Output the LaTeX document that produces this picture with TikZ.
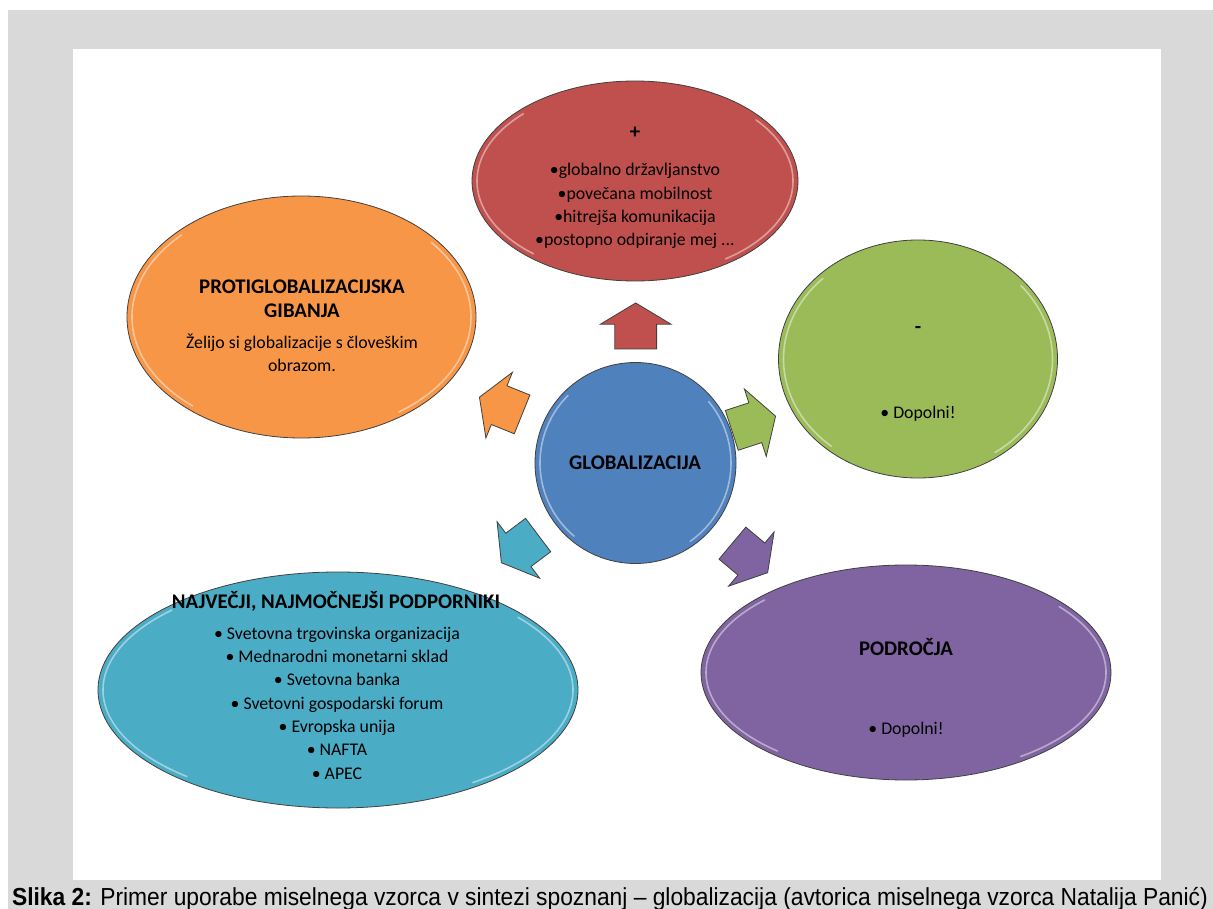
\documentclass[tikz,border=0pt]{standalone}
\usepackage{fontspec}
\setmainfont{Carlito}
\newfontfamily\capfont{Liberation Sans}
\usetikzlibrary{shapes,arrows,calc}
\definecolor{frame}{HTML}{D9D9D9}
\definecolor{cplus}{HTML}{C0504D}
\definecolor{canti}{HTML}{F79646}
\definecolor{cminus}{HTML}{9BBB59}
\definecolor{carea}{HTML}{8064A2}
\definecolor{csupp}{HTML}{4BACC6}
\definecolor{cglob}{HTML}{4F81BD}
\newcommand{\ttl}[1]{\textbf{#1}}

\begin{document}
\begin{tikzpicture}[x=1pt,y=-1pt,
  bevel/.style={path picture={
    \draw[white,opacity=.45,line width=1.6pt,line cap=round]
      let \p1=(path picture bounding box.north east),
          \p2=(path picture bounding box.center),
          \n1={\x1-\x2-5pt},\n2={\y1-\y2-5pt} in
      (\p2) ++(135:\n1 and \n2) arc[start angle=135,end angle=230,x radius=\n1,y radius=\n2]
      (\p2) ++(-55:\n1 and \n2) arc[start angle=-55,end angle=40,x radius=\n1,y radius=\n2];}},
  bubble/.style={ellipse,draw=black!75,line width=.8pt,inner sep=0pt,bevel},
  arw/.style={single arrow,draw=black!75,line width=.8pt,
    inner xsep=0pt,inner ysep=20.5pt,minimum height=46pt,
    single arrow head extend=14.5pt,single arrow tip angle=118,anchor=tip},
  txt/.style={align=center,font=\fontsize{17.8}{23.3}\selectfont},
  head/.style={align=center,font=\fontsize{20.8}{24.5}\selectfont\bfseries}
  ]
  \useasboundingbox (0,0) rectangle (1213,909);
  \fill[frame] (8,10) rectangle (1213,909);
  \fill[white] (73,49) rectangle (1161,880);

  % bubbles
  \node[bubble,fill=cplus,minimum width=326pt,minimum height=200pt] (plus) at (635,181) {};
  \node[bubble,fill=canti,minimum width=349pt,minimum height=242pt] (anti) at (301.5,317) {};
  \node[bubble,fill=cminus,minimum width=279pt,minimum height=238pt] (minus) at (918,359) {};
  \node[bubble,fill=carea,minimum width=410pt,minimum height=215pt] (area) at (906,672.5) {};
  \node[bubble,fill=csupp,minimum width=480pt,minimum height=236pt] (supp) at (338,690) {};
  \node[bubble,fill=cglob,minimum width=201pt,minimum height=201pt] (glob) at (635.5,463) {};

  % block arrows
  \node[arw,fill=cplus,rotate=90] (aplus) at (635.7,302.5) {};
  \node[arw,fill=cminus,rotate=18] (aminus) at (776,416) {};
  \node[arw,fill=carea,rotate=-40] (aarea) at (768,573) {};
  \node[arw,fill=csupp,rotate=-143] (asupp) at (501,563) {};
  \node[arw,fill=canti,rotate=158] (aanti) at (479,397) {};

  % texts
  \node[head] (tglob) at (635,463) {GLOBALIZACIJA};
  \node[head] (tplus) at (635,133) {+};
  \node[txt] (lplus) at (635,206) {•globalno državljanstvo\\•povečana mobilnost\\•hitrejša komunikacija\\•postopno odpiranje mej ...};
  \node[head] (tanti) at (302,299) {PROTIGLOBALIZACIJSKA\\GIBANJA};
  \node[txt] (lanti) at (302,353) {Želijo si globalizacije s človeškim\\obrazom.};
  \node[head] (tminus) at (918,330) {-};
  \node[txt] (lminus) at (918,414) {• Dopolni!};
  \node[head] (tarea) at (906,647) {PODROČJA};
  \node[txt] (larea) at (906,730) {• Dopolni!};
  \node[head] (tsupp) at (336,601) {NAJVEČJI, NAJMOČNEJŠI PODPORNIKI};
  \node[txt] (lsupp) at (337,703) {• Svetovna trgovinska organizacija\\• Mednarodni monetarni sklad\\• Svetovna banka\\• Svetovni gospodarski forum\\• Evropska unija\\• NAFTA\\• APEC};

  % caption
  \node[anchor=base,yscale=1.08,font=\capfont\fontsize{22.8}{26}\selectfont] (cap) at (610,905)
    {\ttl{Slika 2:} Primer uporabe miselnega vzorca v sintezi spoznanj – globalizacija (avtorica miselnega vzorca Natalija Panić)};
\end{tikzpicture}
\end{document}
